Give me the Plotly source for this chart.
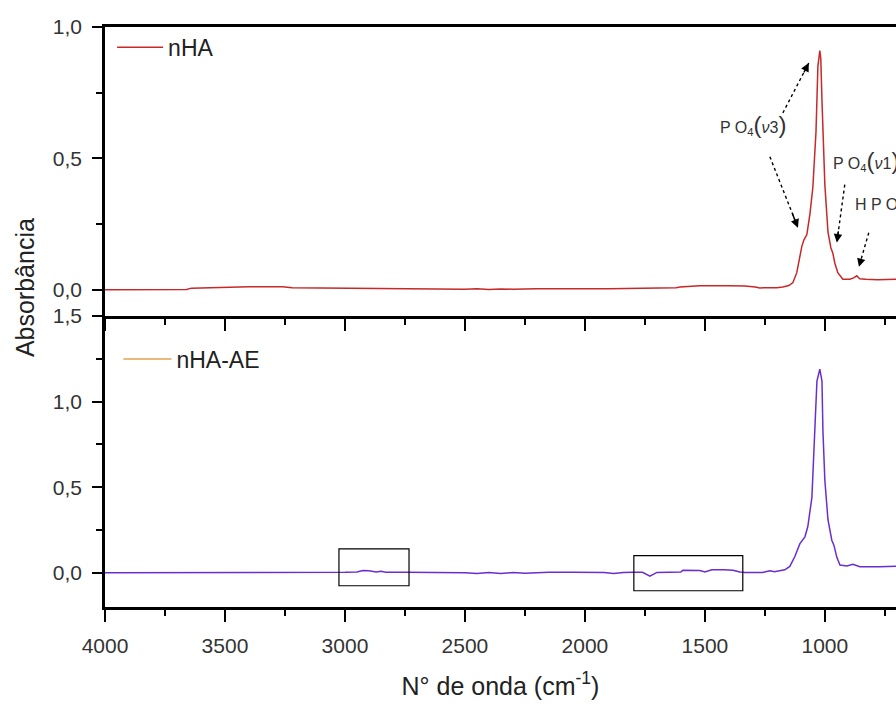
import plotly.graph_objects as go

# ---- data ----
wn_nha = [4000, 3800, 3660, 3640, 3580, 3560, 3400, 3260, 3220, 3100, 3000, 2900, 2800,
          2600, 2500, 2450, 2400, 2350, 2300, 2200, 2100, 2000, 1900, 1800, 1729, 1620,
          1604, 1521, 1400, 1333, 1290, 1271, 1200, 1175, 1150, 1133, 1117, 1096, 1087,
          1075, 1062, 1050, 1037, 1029, 1021, 1017, 1012, 1000, 987, 975, 967, 958, 946,
          925, 896, 880, 867, 855, 830, 780, 704, 650]
ab_nha = [0.000, 0.000, 0.001, 0.006, 0.007, 0.010, 0.011, 0.011, 0.008, 0.007, 0.006,
          0.006, 0.005, 0.004, 0.002, 0.004, 0.001, 0.003, 0.002, 0.004, 0.003, 0.004,
          0.004, 0.005, 0.008, 0.008, 0.010, 0.015, 0.015, 0.014, 0.010, 0.007, 0.008,
          0.010, 0.016, 0.027, 0.065, 0.165, 0.190, 0.210, 0.290, 0.390, 0.600, 0.850,
          0.910, 0.880, 0.720, 0.400, 0.220, 0.160, 0.140, 0.100, 0.065, 0.040, 0.040,
          0.045, 0.053, 0.042, 0.040, 0.038, 0.040, 0.040]

wn_nha_ae = [4000, 3800, 3630, 3620, 3400, 3100, 3000, 2950, 2925, 2900, 2870, 2850, 2830,
             2750, 2600, 2500, 2450, 2400, 2350, 2300, 2250, 2200, 2150, 2050, 1920, 1880,
             1840, 1800, 1760, 1729, 1700, 1650, 1600, 1592, 1521, 1500, 1471, 1420, 1383,
             1354, 1333, 1260, 1229, 1210, 1187, 1167, 1146, 1125, 1104, 1083, 1071, 1054,
             1042, 1033, 1021, 1012, 1008, 1000, 987, 971, 962, 950, 937, 908, 883, 854,
             771, 704, 650]
ab_nha_ae = [0.000, 0.000, 0.000, 0.003, 0.003, 0.003, 0.003, 0.005, 0.013, 0.012, 0.004,
             0.009, 0.003, 0.003, 0.003, 0.000, -0.004, 0.002, -0.004, 0.001, -0.003, 0.002,
             0.003, 0.003, 0.001, -0.004, 0.002, 0.003, 0.003, -0.020, 0.002, 0.003, 0.004,
             0.015, 0.013, 0.004, 0.018, 0.018, 0.015, 0.004, 0.002, 0.002, 0.012, 0.006,
             0.012, 0.017, 0.037, 0.095, 0.170, 0.210, 0.270, 0.440, 0.830, 1.120, 1.190,
             1.120, 0.830, 0.540, 0.310, 0.190, 0.160, 0.090, 0.045, 0.040, 0.050, 0.035,
             0.035, 0.040, 0.040]

series_names = ["nHA", "nHA-AE"]
x_ticks = [4000, 3500, 3000, 2500, 2000, 1500, 1000]
x_title = "N° de onda (cm<sup>-1</sup>)"
y_title = "Absorbância"

# boxes highlighting weak bands in nHA-AE (x0, x1, y0, y1)
box_x0 = [3025, 1796]
box_x1 = [2733, 1342]
box_y0 = [-0.076, -0.105]
box_y1 = [0.14, 0.10]

# annotations: label text, label position, arrows (tail -> head)
lab_text = ["P O<sub>4</sub><span style='font-size:24px'>(</span><i>ν</i>3<span style='font-size:24px'>)</span>",
            "P O<sub>4</sub><span style='font-size:24px'>(</span><i>ν</i>1<span style='font-size:24px'>)</span>",
            "H P O<sub>4</sub><sup>2-</sup>"]
lab_x = [1300, 975, 882]
lab_y = [0.63, 0.49, 0.325]
arr_tail_x = [1175, 1229, 917, 817]
arr_tail_y = [0.673, 0.506, 0.40, 0.217]
arr_head_x = [1067, 1112, 950, 858]
arr_head_y = [0.863, 0.236, 0.18, 0.087]

# ---- figure ----
FONT = "Liberation Sans, Arial, sans-serif"
fig = go.Figure()
fig.add_trace(go.Scatter(x=wn_nha, y=ab_nha, mode="lines", name=series_names[0],
                         line=dict(color="#c82828", width=1.5), xaxis="x", yaxis="y",
                         legend="legend"))
fig.add_trace(go.Scatter(x=wn_nha_ae, y=ab_nha_ae, mode="lines", name=series_names[1],
                         line=dict(color="#6a2ed0", width=1.5), xaxis="x2", yaxis="y2",
                         showlegend=False))
# legend entry for nHA-AE (orange swatch as in the original)
fig.add_trace(go.Scatter(x=[None], y=[None], mode="lines", name=series_names[1],
                         line=dict(color="#e3a24f", width=1.5), xaxis="x2", yaxis="y2",
                         legend="legend2"))

split = 291 / 580
axis_common = dict(showline=True, linecolor="black", linewidth=2.5, ticks="outside",
                   tickcolor="black", tickwidth=2, showgrid=False, zeroline=False,
                   tickfont=dict(family=FONT, size=21, color="#333333"))

fig.update_layout(
    width=896, height=726,
    margin=dict(l=105, r=0, t=27, b=119),
    paper_bgcolor="white", plot_bgcolor="white",
    separators=", ",
    font=dict(family=FONT, color="#222222"),
    xaxis=dict(**axis_common, domain=[0, 1], anchor="y", range=[4000, 703.5],
               tickvals=x_ticks, showticklabels=False, ticklen=12, mirror=True,
               minor=dict(dtick=250, tick0=0, ticklen=6, tickwidth=2, ticks="outside",
                          tickcolor="black")),
    yaxis=dict(**axis_common, domain=[split, 1], anchor="x", range=[-0.1, 1.0],
               dtick=0.5, tick0=0, tickformat=".1f", ticklen=10, ticklabelstandoff=6,
               minor=dict(dtick=0.25, tick0=0, ticklen=6, tickwidth=2, ticks="outside",
                          tickcolor="black")),
    xaxis2=dict(**axis_common, domain=[0, 1], anchor="y2", range=[4000, 703.5],
                tickvals=x_ticks, ticklen=12, ticklabelstandoff=6,
                title=dict(text=x_title, standoff=22,
                           font=dict(family=FONT, size=25, color="#222222")),
                minor=dict(dtick=250, tick0=0, ticklen=6, tickwidth=2, ticks="outside",
                           tickcolor="black")),
    yaxis2=dict(**axis_common, domain=[0, split], anchor="x2", range=[-0.2, 1.5],
                dtick=0.5, tick0=0, tickformat=".1f", ticklen=10, ticklabelstandoff=6,
                minor=dict(dtick=0.25, tick0=0, ticklen=6, tickwidth=2, ticks="outside",
                           tickcolor="black")),
    legend=dict(x=0.009, y=1.002, xanchor="left", yanchor="top", bgcolor="rgba(0,0,0,0)",
                font=dict(family=FONT, size=23, color="#222222"), itemwidth=46),
    legend2=dict(x=0.017, y=split - 0.037, xanchor="left", yanchor="top",
                 bgcolor="rgba(0,0,0,0)",
                 font=dict(family=FONT, size=23, color="#222222"), itemwidth=48),
)

for i in range(len(box_x0)):
    fig.add_shape(type="rect", xref="x2", yref="y2", x0=box_x0[i], x1=box_x1[i],
                  y0=box_y0[i], y1=box_y1[i], line=dict(color="black", width=1.2))

for i in range(len(lab_text)):
    fig.add_annotation(x=lab_x[i], y=lab_y[i], xref="x", yref="y", text=lab_text[i],
                       showarrow=False, xanchor="left" if i else "center", yanchor="middle",
                       font=dict(family=FONT, size=16, color="#333333"))

# dashed arrow shafts + arrowheads
for i in range(len(arr_tail_x)):
    fig.add_shape(type="line", xref="x", yref="y", x0=arr_tail_x[i], y0=arr_tail_y[i],
                  x1=arr_head_x[i], y1=arr_head_y[i],
                  line=dict(color="black", width=1.4, dash="dot"))
    f = 0.22
    fig.add_annotation(x=arr_head_x[i], y=arr_head_y[i],
                       ax=arr_head_x[i] + f * (arr_tail_x[i] - arr_head_x[i]),
                       ay=arr_head_y[i] + f * (arr_tail_y[i] - arr_head_y[i]),
                       xref="x", yref="y", axref="x", ayref="y", text="", showarrow=True,
                       arrowhead=2, arrowsize=1.2, arrowwidth=1.4, arrowcolor="black")

fig.add_annotation(x=-0.101, y=(607 - 288) / 580, xref="paper", yref="paper", text=y_title,
                   textangle=-90, showarrow=False, xanchor="center", yanchor="middle",
                   font=dict(family=FONT, size=25, color="#222222"))

fig.write_html("out.html")
